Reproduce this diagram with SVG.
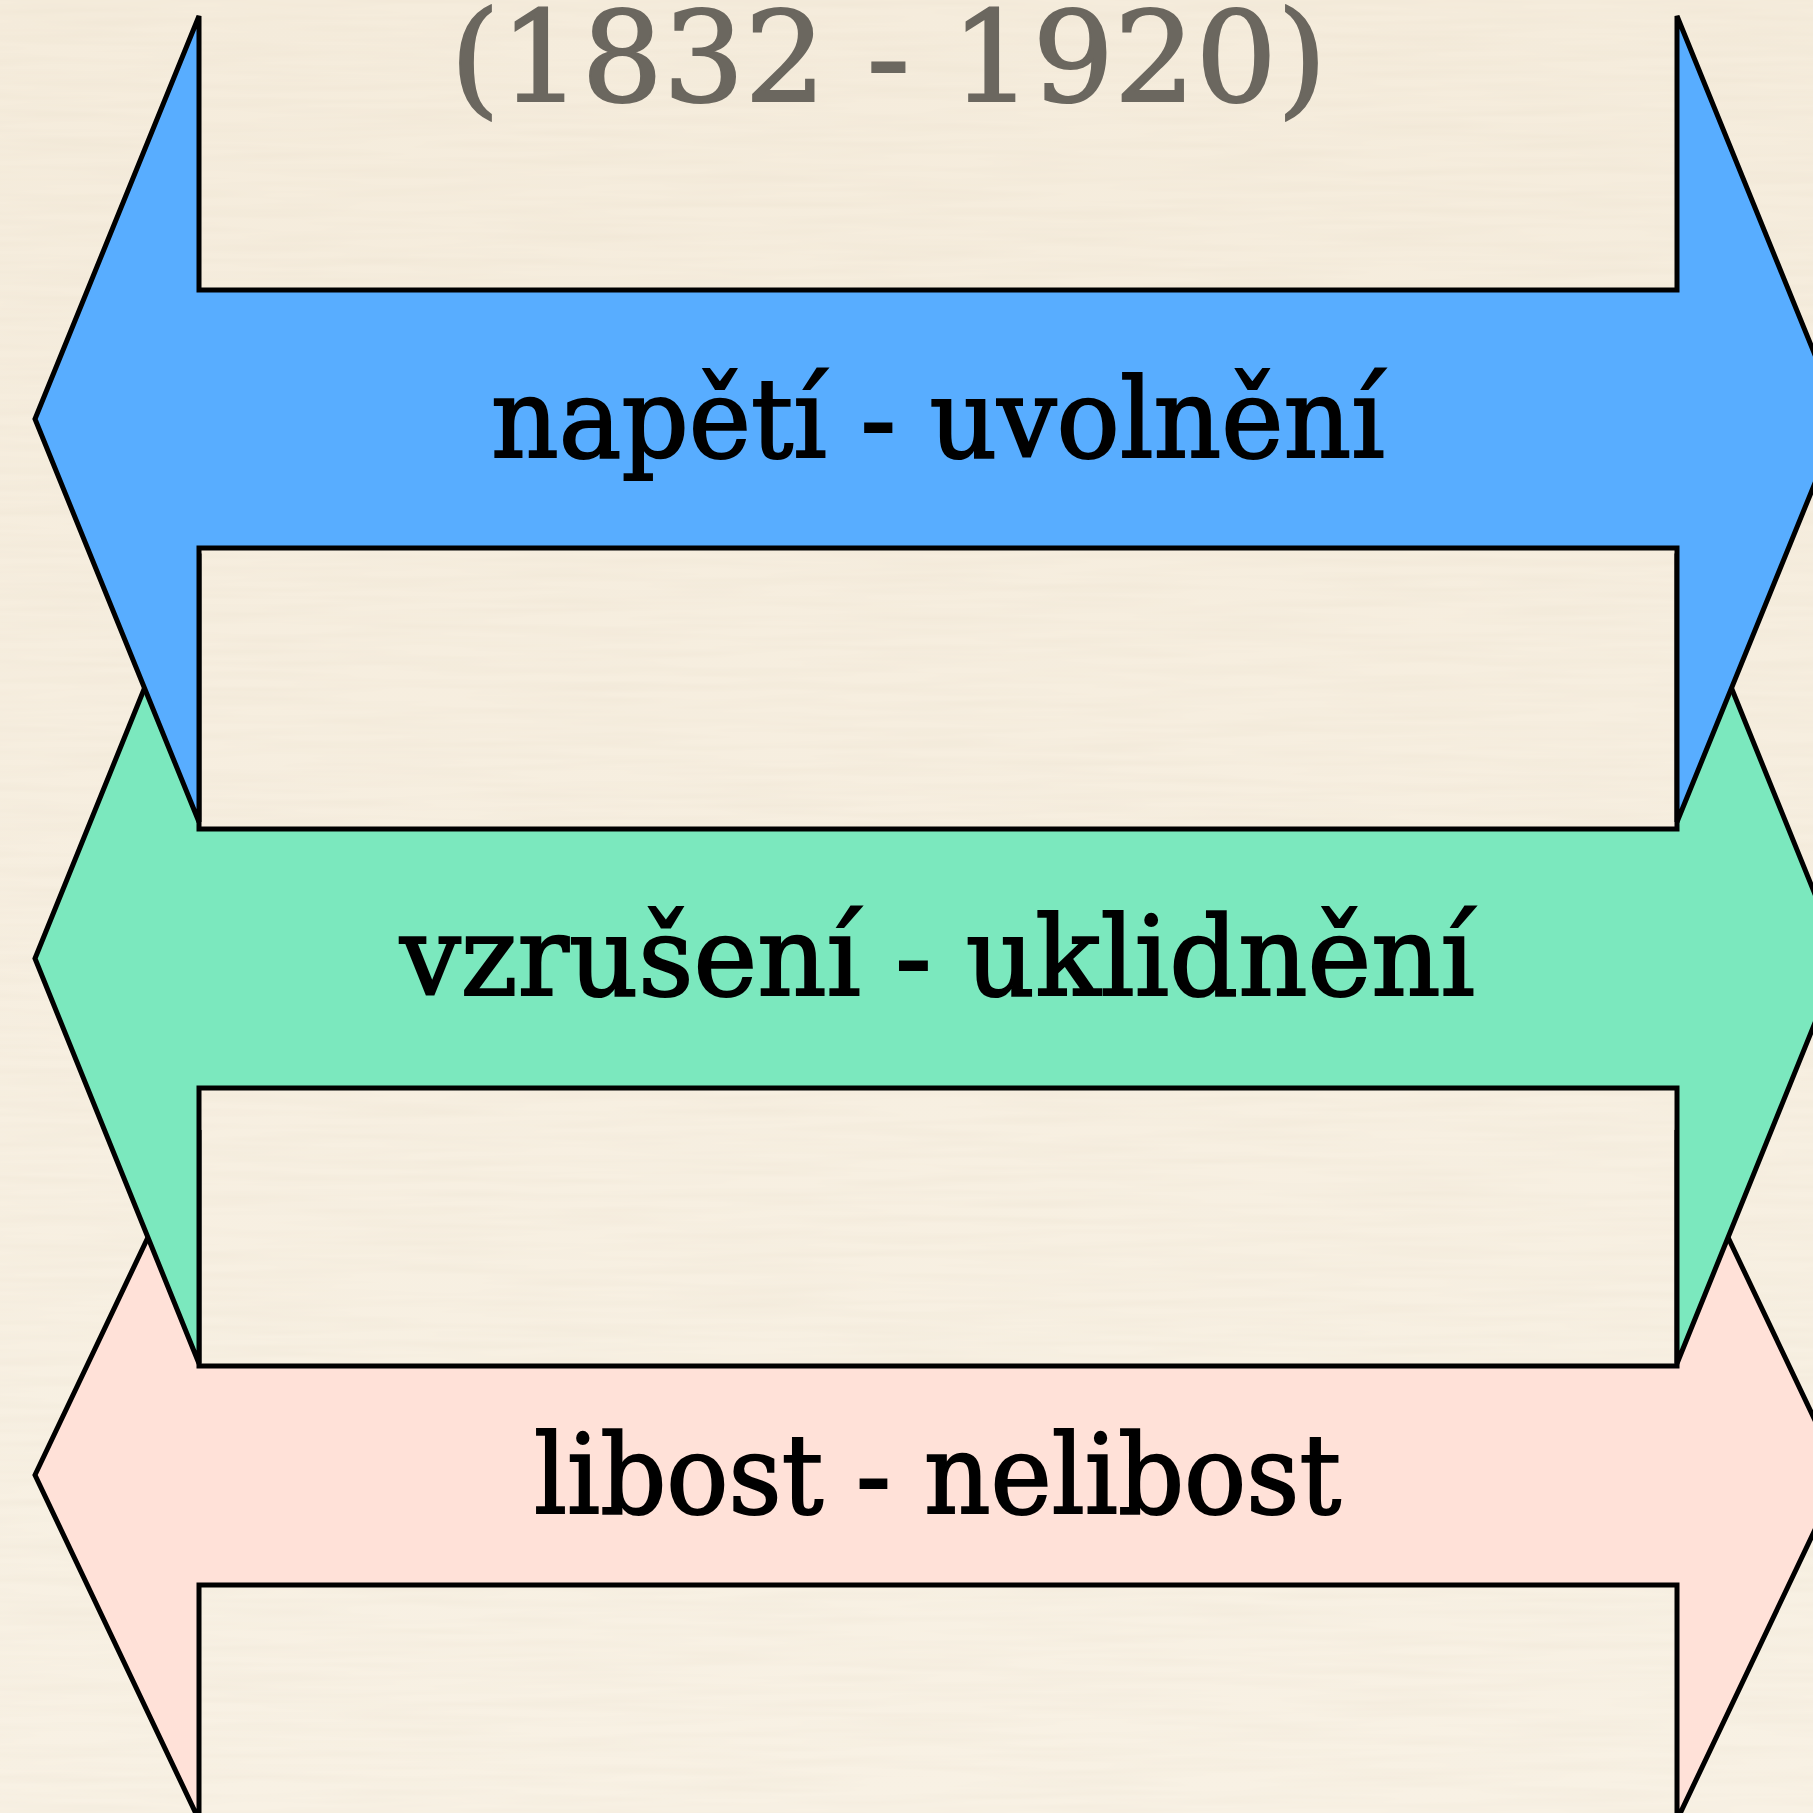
<svg xmlns="http://www.w3.org/2000/svg" width="1813" height="1813" viewBox="0 0 1813 1813">
  <defs>
    <linearGradient id="bg" x1="0" y1="0" x2="0" y2="1">
      <stop offset="0" stop-color="#F5ECDC"/>
      <stop offset="1" stop-color="#F8F1E4"/>
    </linearGradient>
    <filter id="paper" x="0" y="0" width="100%" height="100%">
      <feTurbulence type="fractalNoise" baseFrequency="0.006 0.12" numOctaves="2" seed="3" result="n"/>
      <feColorMatrix in="n" type="matrix" values="0 0 0 0 0.55  0 0 0 0 0.45  0 0 0 0 0.3  0 0 0 0.12 -0.04"/>
    </filter>
    <style>
      .arrow { stroke: #000; stroke-width: 5; stroke-linejoin: miter; }
      .label { font-family: "DejaVu Serif", "Liberation Serif", serif; font-size: 110px; fill: #000; stroke: #000; stroke-width: 2; }
      .title { font-family: "DejaVu Serif", "Liberation Serif", serif; font-size: 126px; fill: #6B675F; stroke: #6B675F; stroke-width: 2; }
    </style>
  </defs>

  <rect width="1813" height="1813" fill="url(#bg)"/>
  <rect width="1813" height="1813" filter="url(#paper)"/>

  <g id="connectors"></g>

  <g id="arrow-libost">
    <polygon class="arrow" fill="#FFE1D8" points="35,1475 199,1130 199,1366 1677,1366 1677,1130 1841,1475 1677,1820 1677,1585 199,1585 199,1820"/>
    <text class="label" x="534" y="1513" textLength="807" lengthAdjust="spacingAndGlyphs">libost - nelibost</text>
  </g>

  <g id="arrow-vzruseni">
    <polygon class="arrow" fill="#7BE8BE" points="35,958.5 199,553.5 199,829 1677,829 1677,553.5 1841,958.5 1677,1363.5 1677,1088 199,1088 199,1363.5"/>
    <text class="label" x="400" y="995" textLength="1075" lengthAdjust="spacingAndGlyphs">vzrušení - uklidnění</text>
  </g>

  <g id="arrow-napeti">
    <polygon class="arrow" fill="#58ADFF" points="35,419 199,16 199,290 1677,290 1677,16 1841,419 1677,822 1677,548 199,548 199,822"/>
    <text class="label" x="491" y="457" textLength="894" lengthAdjust="spacingAndGlyphs">napětí - uvolnění</text>
  </g>

  <g id="title">
    <text class="title" x="450" y="101" textLength="877" lengthAdjust="spacingAndGlyphs">(1832 - 1920)</text>
  </g>
</svg>
